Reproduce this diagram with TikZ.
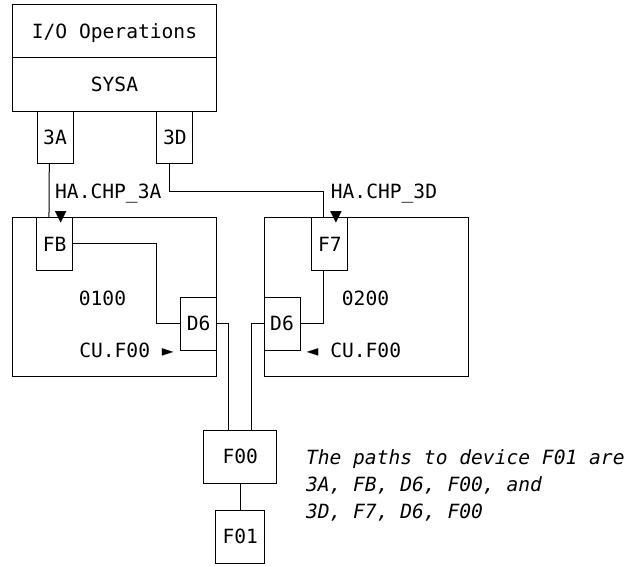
\documentclass[tikz,border=0pt]{standalone}
\usepackage{fontspec}
\setmonofont{DejaVu Sans Mono}
\usetikzlibrary{positioning,calc}

\begin{document}
\begin{tikzpicture}[x=0.75pt, y=-0.75pt, line width=0.75pt,
  every node/.style={font=\ttfamily\fontsize{14.7}{20.1}\selectfont, inner sep=0pt, outer sep=0pt},
  sysbox/.style={draw, minimum width=152.5pt, minimum height=40pt, text depth=0pt},
  chpbox/.style={draw, minimum width=27pt, minimum height=39.5pt},
  cubox/.style={draw, minimum width=153.3pt, minimum height=119.5pt},
  devbox/.style={draw, minimum height=40pt}]
\useasboundingbox (0,0) rectangle (629,565);
% host and its channels
\node[sysbox] (ops) at (114.5,31) {I/O Operations};
\node[sysbox, below=0pt of ops] (sysa) {SYSA};
\node[chpbox, anchor=north] (ch3A) at ($(sysa.south west)+(42.2,0)$) {3A};
\node[chpbox, anchor=north] (ch3D) at ($(sysa.south west)+(162,0)$) {3D};
% control units
\node[cubox] (cu0100) at (114.5,297.3) {};
\node[cubox] (cu0200) at (366.2,297.3) {};
\node[chpbox, anchor=north] (fb) at ($(cu0100.north west)+(42.4,0)$) {FB};
\node[chpbox, anchor=east] (d6a) at ($(cu0100.east)+(0,26.4)$) {D6};
\node[chpbox, anchor=north] (f7) at ($(cu0200.north west)+(65.8,0)$) {F7};
\node[chpbox, anchor=west] (d6b) at ($(cu0200.west)+(0,26.4)$) {D6};
\node[anchor=base] (cuid1) at (102.5,305) {0100};
\node[anchor=base] (cuid2) at (365.5,305) {0200};
\node[anchor=base] (culab1) at (126.5,357.3) {CU.F00 ►};
\node[anchor=base] (culab2) at (353.9,357.3) {◄ CU.F00};
\node (mk1) at (60.8,217) {▼};
\node (mk2) at (336,217) {▼};
\node[anchor=base] (hachp1) at (108.3,198) {HA.CHP\_3A};
\node[anchor=base] (hachp2) at (384,198) {HA.CHP\_3D};
% devices
\node[devbox, minimum width=54.5pt] (f00) at (240.3,456.7) {F00};
\node[devbox, minimum width=36.5pt] (f01) at (240.3,536.7) {F01};
\node[anchor=west, align=left, font=\ttfamily\itshape\fontsize{14.7}{20.1}\selectfont] (note) at (306,485.5)
  {The paths to device F01 are\\3A, FB, D6, F00, and\\3D, F7, D6, F00};
% paths
\draw ([xshift=-4.3pt]ch3A.south) -- ([xshift=-4.3pt]fb.north);
\draw ([xshift=-4pt]ch3D.south) -- ++(0,27.5) -| ([xshift=-4.9pt]f7.north);
\draw (fb.east) -- ++(84,0) |- (d6a.west);
\draw ([xshift=-4.9pt]f7.south) |- (d6b.east);
\draw (d6a.east) -| ([xshift=-9pt]f00.north);
\draw (d6b.west) -| ([xshift=8.6pt]f00.north);
\draw (f00) -- (f01);
\end{tikzpicture}
\end{document}
